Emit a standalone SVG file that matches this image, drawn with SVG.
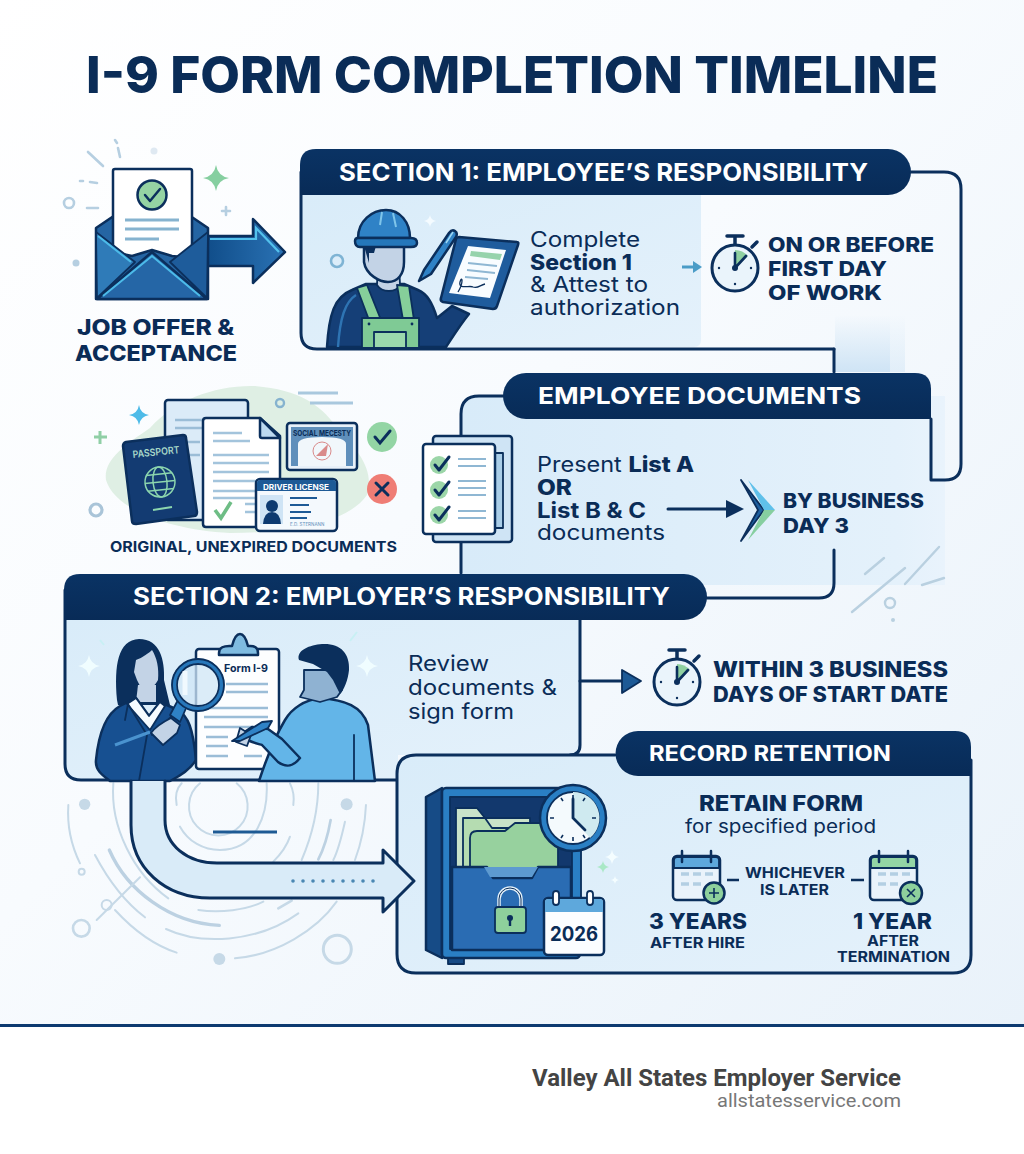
<svg xmlns="http://www.w3.org/2000/svg" width="1024" height="1154" viewBox="0 0 1024 1154">
<style>
text{font-family:"Inter","Liberation Sans",sans-serif}
.n{fill:#0a2c57}.w{fill:#fff}
.b{font-weight:800}.s{font-weight:700}.r{font-weight:400}
.ln{fill:none;stroke:#0b2f5c;stroke-width:3;stroke-linecap:round;stroke-linejoin:round}
.o{stroke:#0b2f5c;stroke-width:2.5;stroke-linejoin:round;stroke-linecap:round}
.o1{stroke:#0b2f5c;stroke-width:1.8;stroke-linejoin:round;stroke-linecap:round}
.dc{fill:none;stroke:#c6d9e7;stroke-width:6;stroke-linecap:round}
.dl{fill:none;stroke:#b9d0e0;stroke-width:2.4;stroke-linecap:round}
</style>
<defs>
<linearGradient id="bg" x1="0" y1="0" x2="1" y2="1"><stop offset="0" stop-color="#fff"/><stop offset="0.45" stop-color="#f8fbfe"/><stop offset="1" stop-color="#e9f2fa"/></linearGradient>
<linearGradient id="pan" x1="0" y1="0" x2="1" y2="1"><stop offset="0" stop-color="#d9ecf9"/><stop offset="1" stop-color="#e4f1fb"/></linearGradient>
<linearGradient id="pan2" x1="0" y1="0" x2="1" y2="0"><stop offset="0" stop-color="#d8ebf9"/><stop offset=".9" stop-color="#e4f1fb"/><stop offset="1" stop-color="#e9f3fc"/></linearGradient>
<linearGradient id="fade" x1="0" y1="0" x2="0" y2="1"><stop offset="0" stop-color="#cfe4f5" stop-opacity="0"/><stop offset="1" stop-color="#cfe4f5"/></linearGradient>
<linearGradient id="arw" x1="0" y1="0" x2="1" y2="0"><stop offset="0" stop-color="#0e4a86"/><stop offset="1" stop-color="#2a72b4"/></linearGradient>
<linearGradient id="hdr" x1="0" y1="0" x2="0" y2="1"><stop offset="0" stop-color="#0a3364"/><stop offset="1" stop-color="#082b57"/></linearGradient>
<path id="star" d="M0-1Q.14-.14 1 0Q.14.14 0 1Q-.14.14-1 0Q-.14-.14 0-1Z"/>
<g id="watch">
<circle r="23" fill="#eaf4fb" class="o" style="stroke-width:3"/>
<path d="M0 0V-18A18 18 0 0 1 13-12Z" fill="#8fd0a0"/>
<path d="M-8-32H8M0-32V-24M17-21L22-26" fill="none" class="o" style="stroke-width:3.5"/>
<path d="M0 0V-15M0 0L11-12" fill="none" class="o" style="stroke-width:2.6"/>
<circle r="3" fill="#0b2f5c"/>
<g fill="#0b2f5c"><circle cx="-16" r="1.2"/><circle cx="16" r="1.2"/><circle cy="16" r="1.2"/></g>
</g>
<g id="chk"><circle r="9" fill="#9cd6a8"/><path d="M-4 0L0 5L10-8" fill="none" stroke="#0b2f5c" stroke-width="3" stroke-linecap="round" stroke-linejoin="round"/></g>
</defs>

<rect width="1024" height="1025" fill="url(#bg)"/>
<rect y="1025" width="1024" height="129" fill="#fff"/>
<rect y="1024" width="1024" height="3" fill="#0d3a70"/>

<g id="title"><text x="86" y="93" class="n b" font-size="51" textLength="852" lengthAdjust="spacingAndGlyphs">I-9 FORM COMPLETION TIMELINE</text></g>

<g id="decor-bottom" transform="translate(60 770) scale(.3333)">
<circle cx="74" cy="103" r="17" fill="#c6d9e7"/><circle cx="860" cy="103" r="18" fill="#c6d9e7"/><circle cx="478" cy="567" r="18" fill="#c6d9e7"/>
<circle cx="64" cy="475" r="25" class="dc" style="stroke-width:8"/><circle cx="832" cy="538" r="42" class="dc" style="stroke-width:9"/>
<circle cx="65" cy="305" r="9" class="dc"/>
<path class="dc" d="M25 105C20 180 38 235 60 280"/>
<path class="dc" d="M160 40C150 170 220 310 325 385"/>
<path class="dc" d="M105 255C150 340 200 400 255 442"/>
<path class="dc" style="stroke-width:10;stroke:#bcd1e2" d="M148 240C200 360 330 460 478 466"/>
<path class="dc" d="M165 420C220 480 280 525 350 548"/>
<path class="dc" d="M318 477C420 525 590 520 715 430"/>
<path class="dc" d="M415 420C480 430 560 420 610 395"/>
<path class="dc" style="stroke-width:8" d="M655 415L695 392"/>
<path class="dc" d="M525 565C650 555 770 480 830 395"/>
<path class="dc" d="M918 105C915 170 900 230 885 270"/>
<path class="dc" style="stroke-width:8;stroke:#bcd1e2" d="M812 150C805 190 795 230 775 268"/>
<path class="dc" d="M855 155C845 200 835 240 820 270"/>
<path class="dc" d="M775 40C775 130 755 200 725 270"/>
<path class="dc" d="M690 200C680 230 660 255 640 275"/>
<path class="dc" d="M690 40C700 60 703 85 700 105"/>
<path class="dc" d="M620 40C625 130 590 240 480 240C430 240 385 215 360 170"/>
<path class="dc" d="M350 105C345 80 350 55 365 40"/>
<path class="dc" d="M530 40A88 88 0 1 1 420 40"/>
<path class="dc" d="M110 450L240 322"/>
<circle cx="140" cy="405" r="15" class="dc"/>
</g>

<rect x="835" y="315" width="55" height="57" fill="url(#fade)"/>
<rect x="890" y="315" width="15" height="57" fill="url(#fade)" opacity=".5"/>

<g id="job-offer">
<path fill="none" stroke="#b6cfe1" stroke-width="2.6" stroke-linecap="round" d="M88 152L103 166M115 140L117 143M118 148L120 157M80 181L83 181M90 182L97 183M87 208H98M226 207V215M222 211H230"/>
<circle cx="69" cy="203" r="5" fill="none" stroke="#b6cfe1" stroke-width="2.6"/><circle cx="76" cy="263" r="3.5" fill="#b6cfe1"/><circle cx="154" cy="151" r="3.5" fill="#dfe9f2"/>
<use href="#star" transform="translate(216 178) scale(13)" fill="#86cfa0"/>
<path d="M200 236H253V219L285 252L253 283V266H200Z" fill="url(#arw)" class="o"/>
<path d="M210 239H256V228L279 252" fill="none" stroke="#53c1ec" stroke-width="2.2"/>
<path d="M96 228L152 190L208 228V299H96Z" fill="#2565a3" class="o"/>
<path d="M113 171Q113 169 115 169H190Q192 169 192 171V258L172 256L152 250L132 256L113 252Z" fill="#fff" class="o"/>
<path d="M125 220H179M125 229H179M125 239H159" stroke="#86b3cf" stroke-width="2.8" fill="none"/>
<circle cx="152" cy="195" r="14.5" fill="#95d3a3" class="o"/><path d="M145 195L150 201L160 189" fill="none" class="o"/>
<path d="M96 232L135 262L97 298Z" fill="#2f7bb8" class="o1"/><path d="M208 232L170 262L207 298Z" fill="#1e5c9b" class="o1"/>
<path d="M97 299L152 252L207 299Z" fill="#2566a6" class="o"/>
<path d="M103 296L152 256L200 296" fill="none" stroke="#4cbbe9" stroke-width="2"/>
<path d="M98 236L131 262" stroke="#4cbbe9" stroke-width="2" fill="none"/>
<text x="77" y="335" class="n b" font-size="21" textLength="157" lengthAdjust="spacingAndGlyphs">JOB OFFER &amp;</text>
<text x="75" y="361" class="n b" font-size="21" textLength="162" lengthAdjust="spacingAndGlyphs">ACCEPTANCE</text>
</g>

<g id="section-1">
<path d="M302 195H701V340Q701 347 694 347H317Q302 347 302 333Z" fill="url(#pan)"/>
<path class="ln" d="M301 172V333Q301 349 317 349H834"/>
<path d="M316 149H888A23 23 0 0 1 888 195H300V165Q300 149 316 149Z" fill="url(#hdr)"/>
<text x="339" y="181" class="w s" font-size="24" textLength="529" lengthAdjust="spacingAndGlyphs">SECTION 1: EMPLOYEE’S RESPONSIBILITY</text>
<circle cx="337" cy="261" r="6" fill="none" stroke="#7fb4d4" stroke-width="2.6"/>
<use href="#star" transform="translate(430 221) scale(6)" fill="#f4fbff"/>
<path d="M327 347C329 315 334 297 352 290L366 284H404L418 290C427 294 432 302 437 318L452 306L469 314C460 325 452 338 446 347Z" fill="#153f77" class="o"/>
<path d="M338 347C340 318 345 302 356 295" fill="none" stroke="#2e74b3" stroke-width="2.4"/>
<path d="M378 262L377 285C382 293 396 293 400 285L399 262Z" fill="#c3d3e6" class="o1"/>
<path d="M364 245V262C366 275 380 282 388 282C398 282 404 274 404 262V246Z" fill="#c3d3e6" class="o"/>
<path d="M364 246H376L374 253H369V263Z" fill="#0b2f5c"/>
<path d="M358 238C358 221 372 210 386 210C400 210 410 222 410 238Z" fill="#2f82c6" class="o"/>
<path d="M355 241Q355 238 358 238H411Q417 238 417 243Q417 247 411 247H360Q355 247 355 241Z" fill="#2577ba" class="o"/>
<path d="M382 212L380 225M393 213L396 227" stroke="#7fc5ea" stroke-width="2" fill="none"/>
<path d="M357 288L369 320H381L367 285ZM409 286L414 320H403L397 285Z" fill="#86cf9a" class="o1"/>
<rect x="362" y="318" width="57" height="30" fill="#7fca95" class="o1"/>
<rect x="374" y="332" width="32" height="16" fill="#9bd9ad" class="o1"/>
<circle cx="369" cy="324" r="1.4" fill="#0b2f5c"/><circle cx="412" cy="324" r="1.4" fill="#0b2f5c"/>
<path d="M419 281L424 270L449 233Q452 229 455 231Q458 233 456 237L431 274Z" fill="#2f82c6" class="o"/>
<path d="M446 243L453 232" stroke="#9ed8f4" stroke-width="1.5"/>
<path d="M459 237L517 242Q519 242 518 245L497 306Q496 309 493 309L443 302Q440 301 441 298L456 239Q457 237 459 237Z" fill="#1f5c9d" class="o"/>
<path d="M468 246L506 250L490 298L449 293Z" fill="#f8fcff"/>
<path d="M471 251L502 254L500 260L470 256Z" fill="#96d3ac"/>
<path d="M468 263L497 266M467 270L495 273M465 277L488 279" stroke="#8fb7d3" stroke-width="2" fill="none"/>
<path d="M458 292C464 282 462 275 460 282C458 290 470 285 473 287C478 289 480 285 485 284" fill="none" stroke="#0b2f5c" stroke-width="1.3"/>
<text x="530" y="247" class="n r" font-size="21.5" textLength="110" lengthAdjust="spacingAndGlyphs">Complete</text>
<text x="530" y="270" class="n b" font-size="21.5" textLength="102" lengthAdjust="spacingAndGlyphs">Section 1</text>
<text x="530" y="292" class="n r" font-size="21.5" textLength="118" lengthAdjust="spacingAndGlyphs">&amp; Attest to</text>
<text x="530" y="315" class="n r" font-size="21.5" textLength="150" lengthAdjust="spacingAndGlyphs">authorization</text>
<use href="#watch" x="735" y="268"/>
<text x="768" y="252" class="n b" font-size="20.5" textLength="166" lengthAdjust="spacingAndGlyphs">ON OR BEFORE</text>
<text x="768" y="276" class="n b" font-size="20.5" textLength="119" lengthAdjust="spacingAndGlyphs">FIRST DAY</text>
<text x="768" y="300" class="n b" font-size="20.5" textLength="114" lengthAdjust="spacingAndGlyphs">OF WORK</text>
</g>

<g id="employee-documents">
<path d="M480 396H945V585H462V414Q462 396 480 396Z" fill="url(#pan2)"/>
<path class="ln" d="M503 396H479Q461 396 461 414V573"/>
<path d="M526 373H915Q931 373 931 389V419H526A23 23 0 0 1 526 373Z" fill="url(#hdr)"/>
<text x="538" y="404" class="w s" font-size="23.5" textLength="323" lengthAdjust="spacingAndGlyphs">EMPLOYEE DOCUMENTS</text>
<rect x="433" y="436" width="79" height="106" rx="3" fill="#cfe4f5" class="o"/>
<rect x="480" y="453" width="23" height="75" fill="#a9cde8" class="o1"/>
<rect x="423" y="444" width="72" height="90" rx="3" fill="#fff" class="o"/>
<use href="#chk" x="439" y="465"/><use href="#chk" x="439" y="490"/><use href="#chk" x="439" y="515"/>
<path d="M458 459H486M458 466H486M458 481H486M458 488H486M458 495H486M458 511H486M458 518H486" stroke="#8fb7d3" stroke-width="2" fill="none"/>
<text x="537" y="472" font-size="21.5" textLength="157" lengthAdjust="spacingAndGlyphs"><tspan class="n r">Present </tspan><tspan class="n b">List A</tspan></text>
<text x="537" y="495" class="n b" font-size="21.5" textLength="35" lengthAdjust="spacingAndGlyphs">OR</text>
<text x="537" y="518" class="n s" font-size="21.5" textLength="109" lengthAdjust="spacingAndGlyphs">List B &amp; C</text>
<text x="537" y="540" class="n r" font-size="21.5" textLength="128" lengthAdjust="spacingAndGlyphs">documents</text>
<path d="M741 480L758 510L741 541L764 510Z" fill="#1d5f9f" class="o1"/>
<path d="M748 480L775 510L764 510Z" fill="#5fc0ea"/><path d="M764 510H775L748 540Z" fill="#86cfa0"/>
<text x="783" y="508" class="n b" font-size="20" textLength="141" lengthAdjust="spacingAndGlyphs">BY BUSINESS</text>
<text x="783" y="533" class="n b" font-size="20" textLength="66" lengthAdjust="spacingAndGlyphs">DAY 3</text>
</g>

<g id="decor-right">
<path class="dl" d="M852 612L905 568M905 584L939 547M865 574L884 558M922 585L944 578"/>
<circle class="dl" cx="890" cy="603" r="5"/><circle cx="893" cy="620" r="2" fill="#b9d0e0"/>
</g>

<g id="documents-illustration">
<path d="M150 428C175 400 215 385 255 386C300 390 320 405 335 425C358 450 375 470 367 495C350 520 300 533 230 533C170 530 115 510 106 480C103 460 125 445 150 428Z" fill="#dfefe4"/>
<path d="M298 393H338M310 403H353" stroke="#a9c8de" stroke-width="2.8"/><circle cx="280" cy="403" r="4" fill="none" stroke="#86b3cf" stroke-width="2.4"/>
<use href="#star" transform="translate(139 415) scale(10)" fill="#4ebbe8"/>
<path d="M100 431V444M94 437H107" stroke="#90cfa6" stroke-width="3"/>
<circle cx="96" cy="510" r="6" fill="none" stroke="#a9c4d8" stroke-width="3.2"/>
<rect x="165" y="400" width="83" height="120" rx="3" fill="#dbebf8" class="o"/>
<path d="M175 420H205M175 428H205M175 442H200M185 455H200" stroke="#9bbdd7" stroke-width="2.6"/>
<path d="M206 418H260L280 436V524Q280 527 277 527H206Q203 527 203 524V421Q203 418 206 418Z" fill="#fff" class="o"/>
<path d="M260 418V436Q260 438 262 438H280Z" fill="#bcd9ef" class="o"/>
<path d="M213 433H242M213 441H250M213 455H269M213 463H269M213 472H269M213 481H269M213 491H262M213 498H255M245 504H258M245 512H258" stroke="#a3c4dc" stroke-width="2.6"/>
<path d="M215 510L221 518L231 502" fill="none" stroke="#6ebd85" stroke-width="3.6"/>
<path d="M126 442L183 435Q186 435 186 438L197 512Q197 516 194 516L136 524Q132 524 132 521L123 446Q123 443 126 442Z" fill="#133b72" class="o"/>
<text x="133" y="458" font-size="10" fill="#a8d8c8" font-weight="600" transform="rotate(-6 133 458)" textLength="47" lengthAdjust="spacingAndGlyphs">PASSPORT</text>
<g fill="none" stroke="#8cd6ae" stroke-width="1.5" transform="rotate(-6 160 482)"><circle cx="160" cy="482" r="15"/><ellipse cx="160" cy="482" rx="7" ry="15"/><path d="M145 482H175M147 474H173M147 490H173"/></g>
<path d="M153 510L172 507" stroke="#8cd6ae" stroke-width="2"/>
<rect x="287" y="423" width="70" height="47" rx="3" fill="#e8f1f9" class="o"/>
<rect x="291" y="427" width="62" height="39" fill="#5f8fbb"/>
<path d="M298 444Q298 437 322 437Q346 437 346 444V466H298Z" fill="#f1f7fb"/>
<text x="322" y="436" font-size="8" font-weight="700" fill="#0a2c57" text-anchor="middle" textLength="58" lengthAdjust="spacingAndGlyphs">SOCIAL MECESTY</text>
<circle cx="322" cy="451" r="9" fill="none" stroke="#d98a8a" stroke-width="1"/><path d="M316 456L328 444L326 456Z" fill="#d98a8a"/>
<circle cx="382" cy="437" r="15" fill="#93d5a4"/><path d="M375 437L380 443L390 431" fill="none" stroke="#0b2f5c" stroke-width="3" stroke-linecap="round"/>
<circle cx="382" cy="489" r="15" fill="#ef7d75"/><path d="M376 483L388 495M388 483L376 495" stroke="#0b2f5c" stroke-width="3" stroke-linecap="round"/>
<rect x="256" y="479" width="81" height="52" rx="4" fill="#f4f9fd" class="o"/>
<path d="M257 491V483Q257 480 260 480H333Q336 480 336 483V491Z" fill="#1d5a96"/>
<text x="296" y="490" font-size="8" font-weight="700" fill="#fff" text-anchor="middle" textLength="66" lengthAdjust="spacingAndGlyphs">DRIVER LICENSE</text>
<rect x="260" y="495" width="23" height="29" fill="#cfe4f5"/>
<circle cx="272" cy="506" r="6" fill="#0d3a70"/><path d="M263 524Q264 512 272 512Q280 512 281 524Z" fill="#0d3a70"/>
<path d="M290 498H317M290 505H309M290 512H311M290 518H307" stroke="#1d5a96" stroke-width="1.8"/>
<text x="290" y="526" font-size="4.5" fill="#5f8fbb">E.D. STERNANN</text>
<text x="110" y="552" class="n s" font-size="14.5" textLength="287" lengthAdjust="spacingAndGlyphs">ORIGINAL, UNEXPIRED DOCUMENTS</text>
</g>

<g id="section-2">
<path d="M66 620H579V755H398V779H81Q66 779 66 764Z" fill="url(#pan)"/>
<path class="ln" d="M65 590V764Q65 780 81 780H397"/>
<path class="ln" d="M580 620V745Q580 755 570 755"/>
<path d="M80 574H684A23 23 0 0 1 684 620H64V590Q64 574 80 574Z" fill="url(#hdr)"/>
<text x="133" y="605" class="w s" font-size="24" textLength="537" lengthAdjust="spacingAndGlyphs">SECTION 2: EMPLOYER’S RESPONSIBILITY</text>
<use href="#star" transform="translate(89 666) scale(11)" fill="#f0fdff"/>
<use href="#star" transform="translate(367 666) scale(11)" fill="#f0fdff"/>
<path d="M100 640L104 645M350 641L357 632" stroke="#c8f0f4" stroke-width="2"/>
<path d="M117 700C114 665 118 640 139 639C160 639 165 660 164 680L170 705H118Z" fill="#0b2f5c"/>
<path d="M134 672L136 660C142 658 150 652 152 650C157 658 159 668 158 680C154 688 146 692 141 688L137 680Z" fill="#c3d3e6"/>
<path d="M138 685H156L156 702H136Z" fill="#c3d3e6"/>
<path d="M96 760C98 740 104 715 120 706L136 698L149 716L160 702L178 710C188 716 193 728 196 760C190 770 180 776 170 781H110C102 775 95 770 96 760Z" fill="#175091" class="o"/>
<path d="M127 704L136 698L149 716L160 702L165 706L150 730Z" fill="#f6fbff" class="o1"/>
<path d="M125 720L128 704L147 735L139 781M172 716L152 735" fill="none" class="o1"/>
<path d="M115 745L150 732" stroke="#4a93cf" stroke-width="3" fill="none"/>
<rect x="196" y="649" width="83" height="120" rx="3" fill="#fdfeff" class="o"/>
<path d="M219 653Q219 645 232 646Q235 634 240 634Q245 634 248 646Q258 645 258 653V655H219Z" fill="#7fbbe0" class="o"/>
<text x="224" y="672" font-size="11" font-weight="700" fill="#0a2c57" textLength="44" lengthAdjust="spacingAndGlyphs">Form I-9</text>
<path d="M226 684H268M226 692H268M204 708H268M204 717H268M204 727H268M206 737H228M206 746H228M206 756H228M244 756H262" stroke="#9bbdd7" stroke-width="2.6"/>
<path d="M170 715L178 700L187 706L180 722Z" fill="#2f82c6" class="o1"/>
<path d="M151 733C156 726 163 722 171 718L180 725L177 733L163 745Z" fill="#c3d3e6" class="o1"/>
<circle cx="198" cy="685" r="24" fill="#cfe6f6" fill-opacity=".75" stroke="#2777ba" stroke-width="5"/>
<circle cx="198" cy="685" r="26" fill="none" class="o1"/><circle cx="198" cy="685" r="21" fill="none" class="o1"/>
<path d="M185 695V671" stroke="#f8fcff" stroke-width="5" opacity=".8" fill="none"/>
<path d="M259 781C266 760 276 735 285 720C292 708 305 700 320 698C345 700 362 706 368 725L375 781Z" fill="#63b5e8" class="o"/>
<path d="M354 781V735" fill="none" class="o1"/>
<path d="M240 735C246 741 255 743 262 745L278 762C285 767 292 768 300 758L282 739L268 729L252 727Z" fill="#63b5e8" class="o"/>
<path d="M240 728L251 735L247 746L236 742Z" fill="#c3d3e6" class="o1"/>
<path d="M232 741L262 722L272 721L268 728L240 741Z" fill="#2f82c6" class="o1"/>
<path d="M300 697L304 690V670H342V690L337 697L320 702Z" fill="#8fb2d2" class="o1"/>
<path d="M299 660C296 650 310 645 322 644C340 643 350 653 349 670C348 680 344 690 340 694L333 680L327 672L313 664Z" fill="#0b2f5c"/>
<text x="408" y="671" class="n r" font-size="21.5" textLength="81" lengthAdjust="spacingAndGlyphs">Review</text>
<text x="408" y="695" class="n r" font-size="21.5" textLength="149" lengthAdjust="spacingAndGlyphs">documents &amp;</text>
<text x="408" y="719" class="n r" font-size="21.5" textLength="106" lengthAdjust="spacingAndGlyphs">sign form</text>
<use href="#watch" x="677" y="682"/>
<text x="713" y="677" class="n b" font-size="21.5" textLength="235" lengthAdjust="spacingAndGlyphs">WITHIN 3 BUSINESS</text>
<text x="713" y="702" class="n b" font-size="21.5" textLength="235" lengthAdjust="spacingAndGlyphs">DAYS OF START DATE</text>
</g>

<g id="record-retention">
<path d="M416 756H970V955Q970 972 953 972H416Q398 972 398 954V774Q398 756 416 756Z" fill="url(#pan)"/>
<path class="ln" d="M615 755H416Q397 755 397 774V954Q397 973 416 973H953Q971 973 971 955V760"/>
<path d="M638 731H955Q971 731 971 747V776H638A22.5 22.5 0 0 1 638 731Z" fill="url(#hdr)"/>
<text x="649" y="761" class="w s" font-size="21" textLength="242" lengthAdjust="spacingAndGlyphs">RECORD RETENTION</text>
<rect x="448" y="958" width="16" height="6" fill="#164b86" class="o1"/>
<path d="M426 797L442 788V958L426 950Z" fill="#164b86" class="o"/>
<rect x="442" y="788" width="138" height="170" rx="4" fill="#2a7fc4" class="o"/>
<rect x="450" y="797" width="122" height="152" fill="#12386d" class="o1"/>
<path d="M456 808H477L485 818H530V870H456Z" fill="#c9e2c9" class="o1"/>
<path d="M463 818H485L492 828H550V870H463Z" fill="#b5dcb1" class="o1"/>
<path d="M470 838Q470 831 477 831H505L515 823H558V870H470Z" fill="#97d19e" class="o1"/>
<path d="M452 867H487L493 878H532L538 867H571V950H452Z" fill="#2a6cb3" class="o"/>
<path d="M484 867L490 877H532L538 867Z" fill="#5d9ad0"/>
<path d="M499 908V899A11 11 0 0 1 521 899V908" fill="none" stroke="#e6f2fa" stroke-width="3.5"/>
<path d="M499 908V899A11 11 0 0 1 521 899V908" fill="none" stroke="#0b2f5c" stroke-width="1"/>
<rect x="495" y="907" width="31" height="26" rx="3" fill="#8ed09c" class="o1"/>
<circle cx="510" cy="918" r="3" fill="#0b2f5c"/><path d="M510 918V926" stroke="#0b2f5c" stroke-width="2.4"/>
<rect x="572" y="850" width="9" height="52" fill="#2a7fc4" class="o1"/>
<circle cx="573" cy="818" r="33" fill="#2a7fc4" class="o"/>
<circle cx="573" cy="818" r="26" fill="#f4fafd" class="o1"/>
<path d="M573 792A26 26 0 0 1 590 838L573 818Z" fill="#cfeaf0"/>
<path stroke="#0b2f5c" stroke-width="1.6" d="M573 795V799M573 837V841M550 818H554M592 818H596M561 798L563 801M585 798L583 801M561 838L563 835M585 838L583 835"/>
<path d="M573 799V818L585 830" fill="none" stroke="#0b2f5c" stroke-width="2.8" stroke-linecap="round"/>
<rect x="544" y="898" width="60" height="57" rx="4" fill="#fbfdff" class="o"/>
<path d="M545 912V902Q545 899 548 899H600Q603 899 603 902V912Z" fill="#5ea8dc"/>
<rect x="553" y="891" width="6" height="14" rx="3" fill="#fff" class="o1"/><rect x="587" y="891" width="6" height="14" rx="3" fill="#fff" class="o1"/>
<text x="574" y="941" class="n s" font-size="20" text-anchor="middle" textLength="48" lengthAdjust="spacingAndGlyphs">2026</text>
<use href="#star" transform="translate(612 857) scale(7)" fill="#f4fdff"/><use href="#star" transform="translate(603 867) scale(6)" fill="#a9e8c6"/><use href="#star" transform="translate(615 880) scale(4)" fill="#f4fdff"/>
<text x="699" y="811" class="n b" font-size="21.5" textLength="164" lengthAdjust="spacingAndGlyphs">RETAIN FORM</text>
<text x="685" y="833" class="n r" font-size="18.5" textLength="191" lengthAdjust="spacingAndGlyphs">for specified period</text>
<rect x="673" y="856" width="47" height="44" rx="4" fill="#eaf3fb" class="o"/>
<path d="M674 868V860Q674 857 677 857H716Q719 857 719 860V868Z" fill="#5ea8dc" class="o1"/>
<path d="M682 851V862M711 851V862" class="o" fill="none"/>
<path d="M681 874H689M693 874H701M705 874H713M681 884H689M693 884H701" stroke="#b4cfe3" stroke-width="3.5"/>
<circle cx="714" cy="893" r="10.5" fill="#8ed09c" class="o"/><path d="M714 888V898M709 893H719" stroke="#0b2f5c" stroke-width="1.6"/>
<path d="M727 880H739M851 880H864" stroke="#0b2f5c" stroke-width="2.5"/>
<text x="745" y="878" class="n s" font-size="15" textLength="100" lengthAdjust="spacingAndGlyphs">WHICHEVER</text>
<text x="760" y="895" class="n s" font-size="15" textLength="69" lengthAdjust="spacingAndGlyphs">IS LATER</text>
<rect x="870" y="856" width="47" height="44" rx="4" fill="#eaf3fb" class="o"/>
<path d="M871 868V860Q871 857 874 857H913Q916 857 916 860V868Z" fill="#93d5a4" class="o1"/>
<path d="M879 851V862M908 851V862" class="o" fill="none"/>
<path d="M878 874H886M890 874H898M902 874H910M878 884H886M890 884H898" stroke="#b4cfe3" stroke-width="3.5"/>
<circle cx="911" cy="893" r="11" fill="#8ed09c" class="o"/><path d="M907 889L915 897M915 889L907 897" stroke="#0b2f5c" stroke-width="1.6"/>
<text x="649" y="929" class="n b" font-size="21" textLength="98" lengthAdjust="spacingAndGlyphs">3 YEARS</text>
<text x="650" y="948" class="n s" font-size="14" textLength="95" lengthAdjust="spacingAndGlyphs">AFTER HIRE</text>
<text x="853" y="929" class="n b" font-size="21" textLength="79" lengthAdjust="spacingAndGlyphs">1 YEAR</text>
<text x="867" y="946" class="n s" font-size="14" textLength="52" lengthAdjust="spacingAndGlyphs">AFTER</text>
<text x="837" y="962" class="n s" font-size="14" textLength="113" lengthAdjust="spacingAndGlyphs">TERMINATION</text>
</g>

<g id="connectors">
<path class="ln" d="M834 349V372"/>
<path class="ln" d="M911 172H944Q961 172 961 189V464Q961 480 945 480H931V419"/>
<path class="ln" d="M834 550V583Q834 598 819 598H707"/>
<path class="ln" d="M580 681H622"/><path d="M622 670L641 681L622 693Z" fill="#1d5a96" class="o1"/>
<path d="M682 267H695" stroke="#4a9cc7" stroke-width="3" fill="none"/><path d="M693 261L702 267L693 273Z" fill="#4a9cc7"/>
<path class="ln" d="M668 509H728"/><path d="M726 500L744 509L726 518Z" fill="#0b2f5c"/>
<path class="ln" style="fill:#d9ebf8" d="M131 781V825C131 868 165 898 210 898H383V912L414 881L383 850V863H217C187 863 165 845 165 820V781"/>
<path d="M213 832H277" stroke="#1d5a94" stroke-width="3"/>
<g fill="#4b88b3"><circle cx="293" cy="881" r="1.8"/><circle cx="303" cy="881" r="1.8"/><circle cx="313" cy="881" r="1.8"/><circle cx="323" cy="881" r="1.8"/><circle cx="333" cy="881" r="1.8"/><circle cx="343" cy="881" r="1.8"/><circle cx="353" cy="881" r="1.8"/><circle cx="363" cy="881" r="1.8"/><circle cx="373" cy="881" r="1.8"/></g>
</g>

<g id="footer">
<text x="532" y="1086" style="font-family:Roboto,'Liberation Sans',sans-serif" font-weight="700" font-size="24" fill="#444" textLength="369" lengthAdjust="spacingAndGlyphs">Valley All States Employer Service</text>
<text x="717" y="1107" style="font-family:Roboto,'Liberation Sans',sans-serif" font-size="19" fill="#777" textLength="184" lengthAdjust="spacingAndGlyphs">allstatesservice.com</text>
</g>
</svg>
